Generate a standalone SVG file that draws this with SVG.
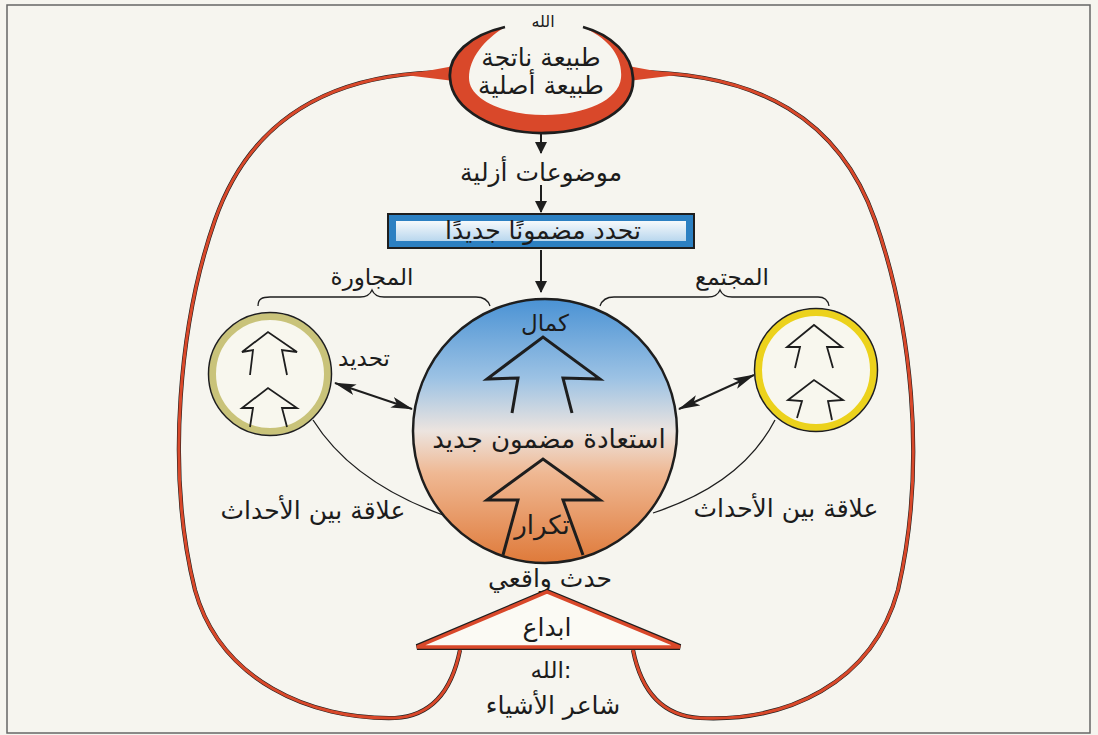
<svg xmlns="http://www.w3.org/2000/svg" width="1098" height="735" viewBox="0 0 1098 735">
<defs>
  <linearGradient id="bigGrad" x1="0" y1="0" x2="0" y2="1">
    <stop offset="0" stop-color="#4a92d4"/>
    <stop offset="0.3" stop-color="#9cc2e4"/>
    <stop offset="0.5" stop-color="#ece4df"/>
    <stop offset="0.66" stop-color="#efb893"/>
    <stop offset="1" stop-color="#df7a3a"/>
  </linearGradient>
  <linearGradient id="boxGrad" x1="0" y1="0" x2="0" y2="1">
    <stop offset="0" stop-color="#f6f9fb"/>
    <stop offset="1" stop-color="#b9d7ee"/>
  </linearGradient>
  <marker id="ah" viewBox="0 0 12 12" refX="11" refY="6" markerWidth="12" markerHeight="12" markerUnits="userSpaceOnUse" orient="auto">
    <path d="M0,0 L12,6 L0,12 Z" fill="#1e1e1e"/>
  </marker>
  <marker id="dh" viewBox="0 0 22 11" refX="21" refY="5.5" markerWidth="22" markerHeight="11" markerUnits="userSpaceOnUse" orient="auto-start-reverse">
    <path d="M0,0 L22,5.5 L0,11 L5,5.5 Z" fill="#1e1e1e"/>
  </marker>
  <style>
    .t { font-family: "DejaVu Sans", "Noto Sans", sans-serif; fill: #1c1c1c; text-anchor: middle; }
    .xl { font-size: 26px; }
    .lg { font-size: 25px; }
    .md { font-size: 23px; }
    .sm { font-size: 16px; }
    .loopK { fill: none; stroke: #1e1e1e; stroke-width: 4.2; }
    .loopR { fill: none; stroke: #d9482a; stroke-width: 3; }
    .thin { fill: none; stroke: #1e1e1e; stroke-width: 1.3; }
    .arr { fill: none; stroke: #1e1e1e; stroke-width: 2; }
    .bigArr { fill: none; stroke: #1e1e1e; stroke-width: 3; stroke-linejoin: miter; }
    .smArr { fill: none; stroke: #1e1e1e; stroke-width: 1.8; }
  </style>
</defs>

<rect x="0" y="0" width="1098" height="735" fill="#f6f5ef"/>
<rect x="7" y="5" width="1083" height="728" fill="none" stroke="#666" stroke-width="1.5"/>

<g id="connectors">
  <!-- outer loop -->
  <path class="loopK" d="M 450,72 C 330,72 250,120 215,220 C 180,320 165,470 195,590 C 220,680 310,720 395,718 C 432,716 452,690 460,650"/>
  <path class="loopR" d="M 450,72 C 330,72 250,120 215,220 C 180,320 165,470 195,590 C 220,680 310,720 395,718 C 432,716 452,690 460,650"/>
  <path class="loopK" d="M 632,72 C 760,72 840,120 875,220 C 910,320 928,460 898,590 C 872,685 785,722 700,718 C 662,716 641,690 633,650"/>
  <path class="loopR" d="M 632,72 C 760,72 840,120 875,220 C 910,320 928,460 898,590 C 872,685 785,722 700,718 C 662,716 641,690 633,650"/>
  <polygon points="405,75 454,66 454,81" fill="#d9482a"/>
  <polygon points="677,75 628,66 628,81" fill="#d9482a"/>
  <!-- vertical arrows -->
  <line class="arr" x1="541" y1="133" x2="541" y2="153" marker-end="url(#ah)"/>
  <line class="arr" x1="541" y1="185" x2="541" y2="212" marker-end="url(#ah)"/>
  <line class="arr" x1="541" y1="250" x2="541" y2="292" marker-end="url(#ah)"/>
  <!-- double arrows -->
  <line class="arr" x1="335" y1="383" x2="412" y2="409" marker-start="url(#dh)" marker-end="url(#dh)"/>
  <line class="arr" x1="679" y1="409" x2="754" y2="375" marker-start="url(#dh)" marker-end="url(#dh)"/>
  <!-- relation curves -->
  <path class="thin" d="M 313,420 Q 352,482 443,515"/>
  <path class="thin" d="M 775,420 Q 742,484 653,513"/>
  <!-- braces -->
  <path class="thin" d="M 258,306 C 258,299 262,297 270,297 L 360,297 C 366,297 370,295 372,290 C 374,295 378,297 384,297 L 476,297 C 484,297 488,300 490,306"/>
  <path class="thin" d="M 600,306 C 602,300 606,297 614,297 L 708,297 C 714,297 718,295 720,290 C 722,295 726,297 732,297 L 818,297 C 825,297 828,300 829,306"/>
</g>

<g id="top-crescent">
  <path d="M 505,27 C 470,35 448,55 450,78 C 452,110 495,134 545,133 C 595,132 635,110 633,78 C 632,55 612,35 583,27 C 607,38 623,55 621,78 C 619,100 585,115 545,115 C 505,115 469,100 469,78 C 469,58 484,40 505,27 Z" fill="#d9482a"/>
  <path d="M 505,27 C 470,35 448,55 450,78 C 452,110 495,134 545,133 C 595,132 635,110 633,78 C 632,55 612,35 583,27" fill="none" stroke="#1e1e1e" stroke-width="2.8"/>
  <text class="t sm" x="543" y="27">الله</text>
  <text class="t lg" x="541" y="66">طبيعة ناتجة</text>
  <text class="t lg" x="541" y="94">طبيعة أصلية</text>
</g>

<g id="eternal">
  <text class="t lg" x="541" y="181">موضوعات أزلية</text>
</g>

<g id="box">
  <rect x="388" y="214" width="306" height="34" fill="#2c80c2" stroke="#1e1e1e" stroke-width="2"/>
  <rect x="396" y="221" width="290" height="20" fill="url(#boxGrad)"/>
  <text class="t lg" x="543" y="239">تحدد مضمونًا جديدًا</text>
</g>

<g id="labels-top">
  <text class="t md" x="372" y="285">المجاورة</text>
  <text class="t md" x="732" y="285">المجتمع</text>
  <text class="t md" x="364" y="366">تحديد</text>
</g>

<g id="left-circle">
  <circle cx="270" cy="374" r="57.5" fill="#f8f7ee" stroke="#c9c37a" stroke-width="7"/>
  <circle cx="270" cy="374" r="61.5" fill="none" stroke="#1e1e1e" stroke-width="1.5"/>
  <path class="smArr" d="M 250,375 L 253,350 L 242,352 L 268,332 L 297,352 L 282,350 L 287,375"/>
  <path class="smArr" d="M 250,427 L 253,408 L 242,408 L 268,388 L 297,408 L 282,408 L 287,427"/>
</g>

<g id="right-circle">
  <circle cx="816" cy="370" r="57.5" fill="#f8f7ee" stroke="#ecd21c" stroke-width="7"/>
  <circle cx="816" cy="370" r="61.5" fill="none" stroke="#1e1e1e" stroke-width="1.5"/>
  <path class="smArr" d="M 795,368 L 800,347 L 787,347 L 814,325 L 842,347 L 827,347 L 833,368"/>
  <path class="smArr" d="M 797,418 L 802,401 L 788,400 L 814,380 L 843,400 L 828,401 L 832,420"/>
</g>

<g id="big-circle">
  <circle cx="545" cy="431" r="132" fill="url(#bigGrad)" stroke="#1e1e1e" stroke-width="2.5"/>
  <path class="bigArr" d="M 512,413 L 518,378 L 487,379 L 543,337 L 600,379 L 563,378 L 572,413"/>
  <path class="bigArr" d="M 503,555 L 518,500 L 487,500 L 543,459 L 600,500 L 563,500 L 583,555"/>
  <text class="t md" x="545" y="331">كمال</text>
  <text class="t xl" x="549" y="448">استعادة مضمون جديد</text>
  <text class="t xl" x="542" y="534">تكرار</text>
</g>

<g id="relation-labels">
  <text class="t lg" x="313" y="519">علاقة بين الأحداث</text>
  <text class="t lg" x="786" y="517">علاقة بين الأحداث</text>
</g>

<g id="event">
  <text class="t lg" x="550" y="587">حدث واقعي</text>
</g>

<g id="creation">
  <polygon points="417,647 547,592 680,647" fill="#fbfaf4" stroke="#1e1e1e" stroke-width="6" stroke-linejoin="miter"/>
  <polygon points="417,647 547,592 680,647" fill="#fbfaf4" stroke="#d9482a" stroke-width="3.5" stroke-linejoin="miter"/>
  <text class="t lg" x="547" y="636">ابداع</text>
  <text class="t md" x="551" y="678">الله:</text>
  <text class="t lg" x="553" y="714">شاعر الأشياء</text>
</g>
</svg>
